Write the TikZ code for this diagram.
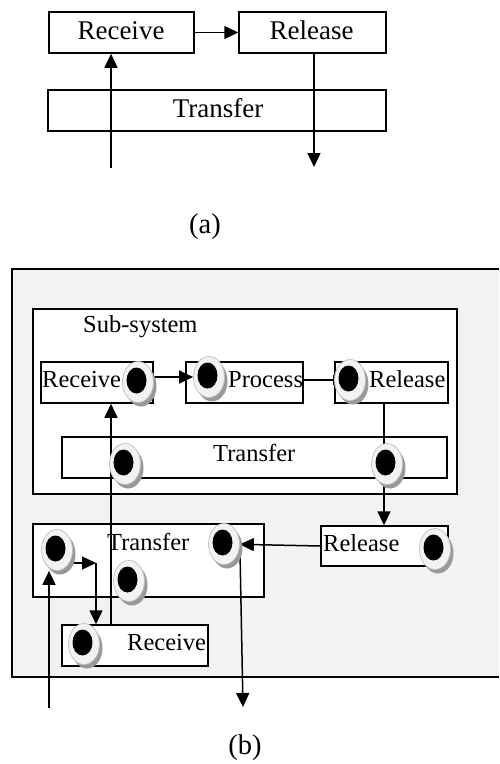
\documentclass[tikz,border=0pt]{standalone}
\usepackage{fontspec}
\setmainfont{Liberation Serif}
\usetikzlibrary{arrows.meta,shapes.geometric}
\pgfdeclarelayer{boxes}
\pgfdeclarelayer{wires}
\pgfsetlayers{boxes,wires,main}

% token: shadow, light ring (named node) and black core
\newcommand\tokenat[3]{%
  \fill[black!40] (#2+3,#3+4) ellipse (15.5 and 20.5);
  \node[ring] (#1) at (#2,#3) {};
  \fill[black] (#2-1.5,#3-1.5) ellipse (10 and 13);
}

\begin{document}
\begin{tikzpicture}[x=1pt,y=-1pt,
  box/.style={draw, line width=1.5pt, fill=white, inner sep=0pt, rectangle},
  lbl/.style={inner sep=0pt, font=\fontsize{24.5}{28}\selectfont},
  biglbl/.style={inner sep=0pt, font=\fontsize{27}{31}\selectfont},
  caption/.style={inner sep=0pt, font=\fontsize{28.5}{32}\selectfont},
  wire/.style={line width=1.5pt},
  arr/.style={wire, -{Triangle[length=14pt,width=13pt]}},
  bararr/.style={wire, -{Bar[width=10pt,line width=1.5pt]}},
  ring/.style={ellipse, minimum width=31pt, minimum height=41pt, inner sep=0pt,
    fill=black!5, draw=black!25, line width=0.7pt},
]
\useasboundingbox (0,0) rectangle (499,764);

% ---------------- (a) ----------------
\begin{pgfonlayer}{boxes}
  \node[box, minimum width=145pt, minimum height=41pt] (aRecv) at (121.5,32.5) {};
  \node[box, minimum width=147pt, minimum height=41pt] (aRel) at (312.5,32.5) {};
  \node[box, minimum width=338pt, minimum height=41pt] (aTrans) at (217,110.5) {};
  \node[biglbl, anchor=base] (aRecvT) at (121,39) {Receive};
  \node[biglbl, anchor=base] (aRelT) at (311.5,39) {Release};
  \node[biglbl, anchor=base] (aTransT) at (218,117) {Transfer};
  \node[caption] (capA) at (205,227) {(a)};
\end{pgfonlayer}

\coordinate (aIn) at (111,168);
\coordinate (aOut) at (314,167);
\begin{pgfonlayer}{wires}
  \draw[arr] (aRecv.east) -- (aRel.west);
  \draw[arr] (aIn) -- (aIn |- aRecv.south);
  \draw[arr] (aOut |- aRel.south) -- (aOut);
\end{pgfonlayer}

% ---------------- (b) ----------------
\begin{pgfonlayer}{boxes}
  \fill[black!5] (12,269) rectangle (499,677);
  \draw[line width=1.5pt] (499,269) -- (12,269) -- (12,677) -- (499,677);

  \node[box, minimum width=424pt, minimum height=185pt] (sub) at (245,401.5) {};
  \node[lbl, anchor=base west] (subT) at (83,332) {Sub-system};

  \node[box, minimum width=112pt, minimum height=41pt] (inRecv) at (97,382.5) {};
  \node[box, minimum width=117pt, minimum height=41pt] (inProc) at (244.5,382.5) {};
  \node[box, minimum width=113pt, minimum height=41pt] (inRel) at (391.5,382.5) {};
  \node[box, minimum width=385pt, minimum height=41pt] (inTrans) at (254.5,457.5) {};
  \node[lbl, anchor=base west] (inRecvT) at (42,387) {Receive};
  \node[lbl, anchor=base west] (inProcT) at (228,387) {Process};
  \node[lbl, anchor=base west] (inRelT) at (369,387) {Release};
  \node[lbl, anchor=base west] (inTransT) at (213,461) {Transfer};

  \node[box, minimum width=231pt, minimum height=73pt] (lowTrans) at (148.5,560.5) {};
  \node[box, minimum width=127pt, minimum height=40pt] (lowRel) at (384.5,546) {};
  \node[box, minimum width=146pt, minimum height=41pt] (lowRecv) at (135,645.5) {};
  \node[lbl, anchor=base west] (lowTransT) at (107,550) {Transfer};
  \node[lbl, anchor=base west] (lowRelT) at (323,551) {Release};
  \node[lbl, anchor=base west] (lowRecvT) at (127,650) {Receive};

  \node[caption] (capB) at (245,748) {(b)};
\end{pgfonlayer}

% tokens
\tokenat{t1}{138}{382}
\tokenat{t2}{209}{377}
\tokenat{t3}{350}{380}
\tokenat{t4}{125}{464}
\tokenat{t5}{387}{464}
\tokenat{t6}{57}{550}
\tokenat{t7}{224}{544}
\tokenat{t8}{129}{581}
\tokenat{t9}{435}{549}
\tokenat{t10}{84}{644}

% connectors
\coordinate (bUpFoot) at (111,625);
\coordinate (bRelX) at (384,0);
\coordinate (bTurn) at (96,563);
\coordinate (bIn) at (49,708);
\coordinate (bOut) at (243,707);
\begin{pgfonlayer}{wires}
  \draw[arr] (t1.east |- t2.west) -- (t2.west);
  \draw[bararr] (inProc.east |- t3) -- (t3.west);
  \draw[arr] (bRelX |- inRel.south) -- (bRelX |- lowRel.north);
  \draw[arr] (lowRel.west) -- (t7);
  \draw[arr] (t7.east) -- (bOut);
  \draw[arr] (bIn) -- (bIn |- t6.south);
  \draw[arr] (bTurn -| t6) -- (bTurn);
  \draw[arr] (bTurn) -- (bTurn |- lowRecv.north);
  \draw[arr] (bUpFoot) -- (bUpFoot |- inRecv.south);
\end{pgfonlayer}
\end{tikzpicture}
\end{document}
